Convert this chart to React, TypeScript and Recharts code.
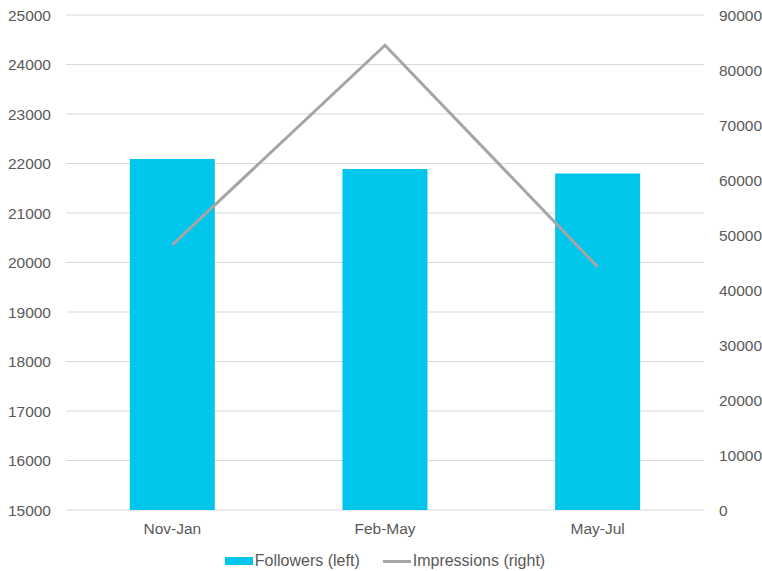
import React from 'react';
import { ComposedChart, Bar, Line, XAxis, YAxis, CartesianGrid, Legend } from 'recharts';

const periods = ['Nov-Jan', 'Feb-May', 'May-Jul'];
const followers = [22090, 21890, 21800];
const impressions = [48200, 84500, 44200];
const leftTicks = [15000, 16000, 17000, 18000, 19000, 20000, 21000, 22000, 23000, 24000, 25000];
const rightTicks = [0, 10000, 20000, 30000, 40000, 50000, 60000, 70000, 80000, 90000];

const data = periods.map((name, i) => ({
  name,
  followers: followers[i],
  impressions: impressions[i]
}));

const textColor = '#595959';
const barColor = '#00C6EC';
const lineColor = '#A5A5A5';

const tickStyle = { fill: textColor, fontSize: 15.5, fontFamily: '"Liberation Sans", Arial, sans-serif' };

const LegendContent = () => (
  <div
    style={{
      display: 'flex',
      justifyContent: 'center',
      alignItems: 'center',
      fontFamily: '"Liberation Sans", Arial, sans-serif',
      fontSize: 16,
      color: textColor,
      paddingLeft: 8,
      marginTop: 12
    }}
  >
    <span style={{ display: 'inline-block', width: 28, height: 8, background: barColor, marginRight: 2 }} />
    <span style={{ marginRight: 23 }}>Followers (left)</span>
    <span style={{ display: 'inline-block', width: 28, height: 3, background: lineColor, marginRight: 2 }} />
    <span>Impressions (right)</span>
  </div>
);

const App: React.FC = () => {
  return (
    <div style={{ position: 'absolute', left: 0, top: 0, width: 762, height: 571, background: '#fff' }}>
      <ComposedChart
        width={762}
        height={571}
        data={data}
        margin={{ top: 15, right: 0, left: 0, bottom: 0 }}
        barCategoryGap="30%"
      >
        <CartesianGrid yAxisId="left" vertical={false} stroke="#D9D9D9" strokeWidth={1} />
        <XAxis
          dataKey="name"
          axisLine={false}
          tickLine={false}
          tick={tickStyle}
          tickMargin={7}
          height={30}
        />
        <YAxis
          yAxisId="left"
          orientation="left"
          domain={[15000, 25000]}
          ticks={leftTicks}
          axisLine={false}
          tickLine={false}
          tick={tickStyle}
          tickMargin={9}
          width={66}
          interval={0}
        />
        <YAxis
          yAxisId="right"
          orientation="right"
          domain={[0, 90000]}
          ticks={rightTicks}
          axisLine={false}
          tickLine={false}
          tick={tickStyle}
          tickMargin={9}
          width={58}
          interval={0}
        />
        <Legend verticalAlign="bottom" height={31} content={<LegendContent />} />
        <Bar yAxisId="left" dataKey="followers" fill={barColor} isAnimationActive={false} />
        <Line
          yAxisId="right"
          type="linear"
          dataKey="impressions"
          stroke={lineColor}
          strokeWidth={3}
          dot={false}
          isAnimationActive={false}
        />
      </ComposedChart>
    </div>
  );
};

export default App;
